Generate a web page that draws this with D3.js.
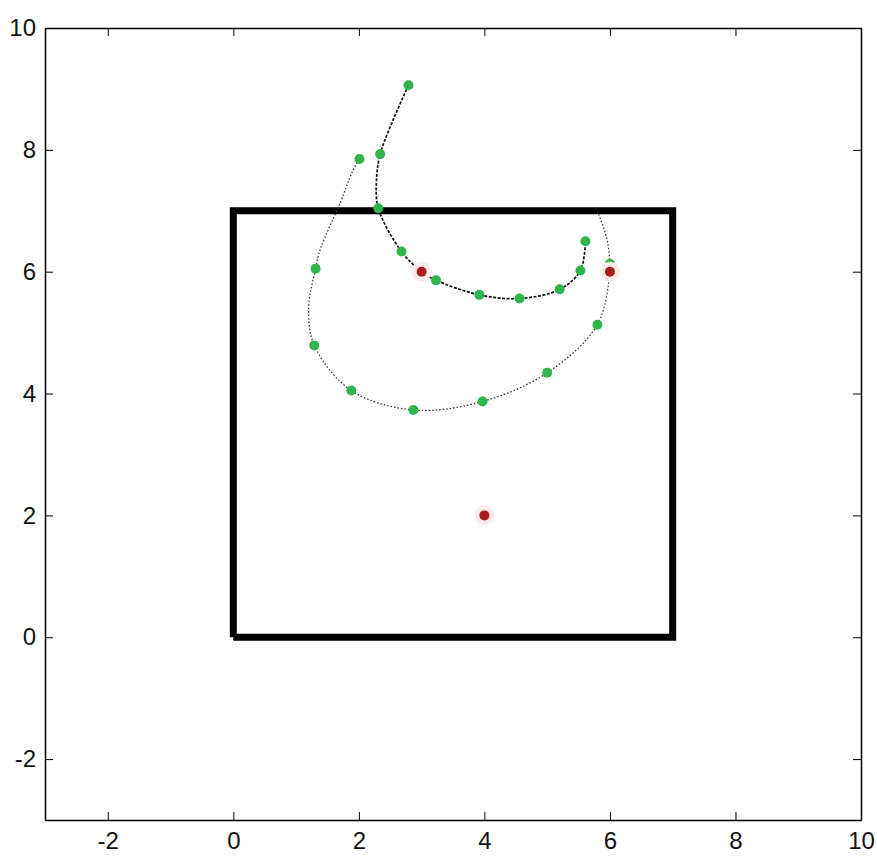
<!DOCTYPE html>
<html>
<head>
<meta charset="utf-8">
<script src="https://cdn.jsdelivr.net/npm/d3@7"></script>
<style>
  body { margin: 0; background: #fff; }
  text { font-family: "Liberation Sans Narrow", "Liberation Sans", Arial, sans-serif; }
</style>
</head>
<body>
<div id="chart"></div>
<script>
// data
const xTicks = [-2, 0, 2, 4, 6, 8, 10];
const yTicks = [-2, 0, 2, 4, 6, 8, 10];
const squareCorners = [[0, 0], [7, 0], [7, 7], [0, 7], [0, 0]];
const pathA = [[2.79, 9.06], [2.55, 8.5], [2.34, 7.93], [2.28, 7.48], [2.31, 7.04], [2.68, 6.33],
  [3.0, 6.0], [3.23, 5.86], [3.92, 5.62], [4.56, 5.56], [5.2, 5.71], [5.53, 6.02], [5.61, 6.5]];
const pathB = [[5.78, 7.05], [5.95, 6.55], [6.0, 6.13], [6.0, 6.0], [5.8, 5.13], [5.0, 4.34],
  [3.97, 3.87], [2.87, 3.73], [1.88, 4.05], [1.29, 4.79], [1.2, 5.4], [1.31, 6.05], [1.39, 6.38],
  [1.71, 7.15], [1.9, 7.65], [2.01, 7.85]];
const greenPts = [[2.79, 9.06], [2.34, 7.93], [2.01, 7.85], [2.31, 7.04], [2.68, 6.33], [1.31, 6.05],
  [3.23, 5.86], [3.92, 5.62], [4.56, 5.56], [5.2, 5.71], [5.53, 6.02], [5.61, 6.5], [6.0, 6.13],
  [5.8, 5.13], [5.0, 4.34], [3.97, 3.87], [2.87, 3.73], [1.88, 4.05], [1.29, 4.79]];
const redPts = [[3, 6], [6, 6], [4, 2]];

const width = 877;
const height = 861;
const margin = {top: 28, right: 16, bottom: 41, left: 45};

const svg = d3.select("#chart")
  .append("svg")
    .attr("width", width)
    .attr("height", height);

const x = d3.scaleLinear().domain([-3, 10]).range([margin.left, width - margin.right]);
const y = d3.scaleLinear().domain([-3, 10]).range([height - margin.bottom, margin.top]);

const line = d3.line().x(d => x(d[0])).y(d => y(d[1]));
const smooth = d3.line().x(d => x(d[0])).y(d => y(d[1])).curve(d3.curveCatmullRom);

// thick square
svg.append("path")
  .attr("d", line(squareCorners))
  .attr("fill", "none")
  .attr("stroke", "#000")
  .attr("stroke-width", 7)
  .attr("stroke-linejoin", "miter");

// trajectories
svg.append("path")
  .attr("d", smooth(pathB))
  .attr("fill", "none")
  .attr("stroke", "#333")
  .attr("stroke-width", 1.3)
  .attr("stroke-dasharray", "1.5,2");

svg.append("path")
  .attr("d", smooth(pathA))
  .attr("fill", "none")
  .attr("stroke", "#111")
  .attr("stroke-width", 1.7)
  .attr("stroke-dasharray", "3,1.5");

// markers
svg.append("g").selectAll("circle")
  .data(greenPts)
  .join("circle")
    .attr("cx", d => x(d[0]))
    .attr("cy", d => y(d[1]))
    .attr("r", 5)
    .attr("fill", "#2fb54c");

svg.append("g").selectAll("circle")
  .data(redPts)
  .join("circle")
    .attr("cx", d => x(d[0]))
    .attr("cy", d => y(d[1]))
    .attr("r", 10)
    .attr("fill", "#fdeaea");

svg.append("g").selectAll("circle")
  .data(redPts)
  .join("circle")
    .attr("cx", d => x(d[0]))
    .attr("cy", d => y(d[1]))
    .attr("r", 5)
    .attr("fill", "#a81c1c");

// axes box with inward ticks
const tickLen = 8;
const fmt = d => d3.format("d")(d).replace("−", "-");

svg.append("g")
  .attr("transform", `translate(0,${height - margin.bottom})`)
  .call(d3.axisBottom(x).tickValues(xTicks).tickSizeInner(-tickLen).tickSizeOuter(0).tickPadding(12).tickFormat(fmt));
svg.append("g")
  .attr("transform", `translate(0,${margin.top})`)
  .call(d3.axisTop(x).tickValues(xTicks).tickSizeInner(-tickLen).tickSizeOuter(0).tickFormat(""));
svg.append("g")
  .attr("transform", `translate(${margin.left},0)`)
  .call(d3.axisLeft(y).tickValues(yTicks).tickSizeInner(-tickLen).tickSizeOuter(0).tickPadding(9).tickFormat(fmt));
svg.append("g")
  .attr("transform", `translate(${width - margin.right},0)`)
  .call(d3.axisRight(y).tickValues(yTicks).tickSizeInner(-tickLen).tickSizeOuter(0).tickFormat(""));

svg.selectAll(".domain").attr("stroke", "#000").attr("stroke-width", 1.5);
svg.selectAll(".tick line").attr("stroke", "#000");
svg.selectAll(".tick text")
  .attr("fill", "#111")
  .style("font-size", "24px");
</script>
</body>
</html>
